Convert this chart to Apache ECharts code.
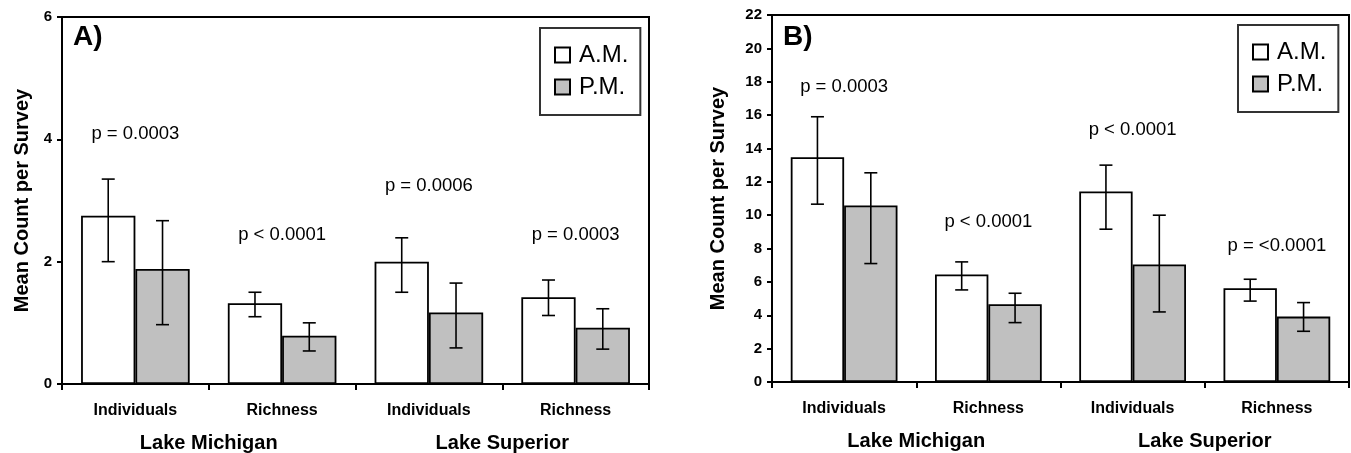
<!DOCTYPE html>
<html>
<head>
<meta charset="utf-8">
<script src="https://cdn.jsdelivr.net/npm/echarts@6/dist/echarts.min.js"></script>
<style>
  html, body { margin: 0; padding: 0; background: #fff; }
  #chart { width: 1351px; height: 453px; }
</style>
</head>
<body>
<div id="chart"></div>
<script>
// categories shared by both panels
const categories = ['Individuals', 'Richness', 'Individuals', 'Richness']
const lakes = ['Lake Michigan', 'Lake Superior']

// Panel A
const amA = [2.75, 1.32, 2.0, 1.42]
const amALow = [2.0, 1.10, 1.50, 1.12]
const amAHigh = [3.35, 1.50, 2.39, 1.70]
const pmA = [1.88, 0.79, 1.17, 0.92]
const pmALow = [0.97, 0.54, 0.59, 0.57]
const pmAHigh = [2.67, 1.00, 1.65, 1.23]
const pLabelsA = ['p = 0.0003', 'p < 0.0001', 'p = 0.0006', 'p = 0.0003']
const pPosA = [4.09, 2.43, 3.24, 2.43]

// Panel B
const amB = [13.48, 6.45, 11.42, 5.62]
const amBLow = [10.66, 5.52, 9.16, 4.85]
const amBHigh = [15.9, 7.2, 13.0, 6.16]
const pmB = [10.58, 4.66, 7.04, 3.92]
const pmBLow = [7.1, 3.56, 4.2, 3.04]
const pmBHigh = [12.54, 5.32, 10.0, 4.76]
const pLabelsB = ['p = 0.0003', 'p < 0.0001', 'p < 0.0001', 'p = <0.0001']
const pPosB = [17.66, 9.6, 15.1, 8.14]

const FONT = 'Liberation Sans, Arial, sans-serif'
const CAT_GAP = 0.26

const chart = echarts.init(document.getElementById('chart'))

function barSeries(name, data, axis, color) {
  return {
    name,
    type: 'bar',
    xAxisIndex: axis,
    yAxisIndex: axis,
    data,
    barGap: '0%',
    barCategoryGap: (CAT_GAP * 100) + '%',
    itemStyle: { color, borderColor: '#000', borderWidth: 1.8 },
    silent: true
  }
}

// error bars drawn on top of each bar; side -1 = A.M., +1 = P.M.
function errSeries(low, high, axis, side) {
  return {
    type: 'custom',
    xAxisIndex: axis,
    yAxisIndex: axis,
    z: 5,
    silent: true,
    data: low.map((lo, i) => [i, lo, high[i]]),
    renderItem: (params, api) => {
      const band = api.size([1, 0])[0]
      const barW = band * (1 - CAT_GAP) / 2
      const lo = api.coord([api.value(0), api.value(1)])
      const hi = api.coord([api.value(0), api.value(2)])
      const x = lo[0] + side * barW / 2
      const cap = 6.5
      const style = { stroke: '#000', lineWidth: 1.6 }
      return {
        type: 'group',
        children: [
          { type: 'line', shape: { x1: x, y1: lo[1], x2: x, y2: hi[1] }, style },
          { type: 'line', shape: { x1: x - cap, y1: lo[1], x2: x + cap, y2: lo[1] }, style },
          { type: 'line', shape: { x1: x - cap, y1: hi[1], x2: x + cap, y2: hi[1] }, style }
        ]
      }
    }
  }
}

function pSeries(labels, pos, axis) {
  return {
    type: 'custom',
    xAxisIndex: axis,
    yAxisIndex: axis,
    z: 6,
    silent: true,
    data: pos.map((v, i) => [i, v]),
    renderItem: (params, api) => {
      const pt = api.coord([api.value(0), api.value(1)])
      return {
        type: 'text',
        x: pt[0],
        y: pt[1],
        style: {
          text: labels[params.dataIndex],
          font: '18.5px ' + FONT,
          fill: '#000',
          align: 'center',
          verticalAlign: 'middle'
        }
      }
    }
  }
}

function xAxes(grid) {
  return [
    {
      type: 'category',
      gridIndex: grid,
      data: categories,
      axisLine: { lineStyle: { color: '#000', width: 2 } },
      axisTick: { show: true, length: 6, lineStyle: { color: '#000', width: 2 } },
      axisLabel: { color: '#000', fontFamily: FONT, fontSize: 16, fontWeight: 'bold', margin: 19, interval: 0 }
    },
    {
      type: 'category',
      gridIndex: grid,
      position: 'bottom',
      data: lakes,
      axisLine: { show: false },
      axisTick: { show: false },
      axisLabel: { color: '#000', fontFamily: FONT, fontSize: 20, fontWeight: 'bold', margin: 49, interval: 0 }
    }
  ]
}

function yAxis(grid, max, gap) {
  return {
    type: 'value',
    gridIndex: grid,
    min: 0,
    max,
    interval: 2,
    name: 'Mean Count per Survey',
    nameLocation: 'middle',
    nameGap: gap,
    nameTextStyle: { color: '#000', fontFamily: FONT, fontSize: 20, fontWeight: 'bold' },
    splitLine: { show: false },
    axisLine: { show: true, lineStyle: { color: '#000', width: 2 } },
    axisTick: { show: true, length: 5, lineStyle: { color: '#000', width: 2 } },
    axisLabel: { color: '#000', fontFamily: FONT, fontSize: 15, fontWeight: 'bold', margin: 10 }
  }
}

function legend(left, top) {
  return {
    orient: 'vertical',
    left,
    top,
    data: ['A.M.', 'P.M.'],
    icon: 'rect',
    itemWidth: 15,
    itemHeight: 15,
    itemGap: 8,
    padding: [15, 12, 16, 14],
    borderColor: '#333',
    borderWidth: 2,
    selectedMode: false,
    textStyle: { color: '#000', fontFamily: FONT, fontSize: 24, lineHeight: 24, padding: [0, 0, 0, 4] }
  }
}

const xa = xAxes(0)
const xb = xAxes(1)

const option = {
  animation: false,
  title: [
    { text: 'A)', left: 73, top: 23, padding: 0, textStyle: { fontFamily: FONT, fontSize: 28, fontWeight: 'bold', color: '#000' } },
    { text: 'B)', left: 783, top: 23, padding: 0, textStyle: { fontFamily: FONT, fontSize: 28, fontWeight: 'bold', color: '#000' } }
  ],
  legend: [legend(540, 28), legend(1238, 25)],
  grid: [
    { left: 62, top: 17, width: 587, height: 368, show: true, borderColor: '#000', borderWidth: 2 },
    { left: 772, top: 15, width: 577, height: 367, show: true, borderColor: '#000', borderWidth: 2 }
  ],
  xAxis: [xa[0], xa[1], xb[0], xb[1]],
  yAxis: [yAxis(0, 6, 30), yAxis(1, 22, 44)],
  series: [
    barSeries('A.M.', amA, 0, '#ffffff'),
    barSeries('P.M.', pmA, 0, '#c0c0c0'),
    errSeries(amALow, amAHigh, 0, -1),
    errSeries(pmALow, pmAHigh, 0, 1),
    pSeries(pLabelsA, pPosA, 0),
    { ...barSeries('A.M.', amB, 0, '#ffffff'), xAxisIndex: 2, yAxisIndex: 1 },
    { ...barSeries('P.M.', pmB, 0, '#c0c0c0'), xAxisIndex: 2, yAxisIndex: 1 },
    { ...errSeries(amBLow, amBHigh, 0, -1), xAxisIndex: 2, yAxisIndex: 1 },
    { ...errSeries(pmBLow, pmBHigh, 0, 1), xAxisIndex: 2, yAxisIndex: 1 },
    { ...pSeries(pLabelsB, pPosB, 0), xAxisIndex: 2, yAxisIndex: 1 }
  ]
}

chart.setOption(option)
</script>
</body>
</html>
